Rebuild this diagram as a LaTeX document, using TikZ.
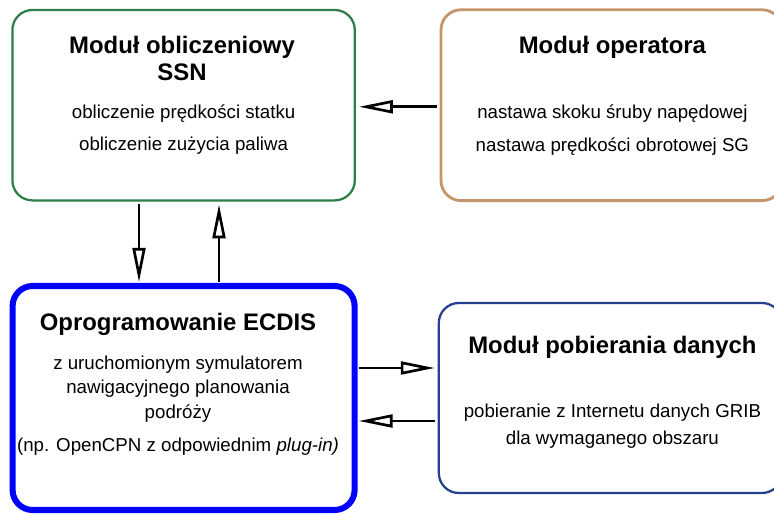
\documentclass[tikz,border=0pt]{standalone}
\usepackage{fontspec}
\setmainfont{Liberation Sans}
\usepackage{tikz}
\usetikzlibrary{arrows.meta,positioning,calc}
\definecolor{ssnGreen}{HTML}{2E7D4A}
\definecolor{opTan}{HTML}{C4956A}
\definecolor{ecdisBlue}{HTML}{0000FF}
\definecolor{gribNavy}{HTML}{26408B}

\begin{document}
\begin{tikzpicture}[
  box/.style={draw,rounded corners=0.5cm,outer sep=0pt,inner sep=0pt},
  ttl/.style={font=\fontsize{17}{19.2}\selectfont\bfseries,align=center},
  txt/.style={font=\fontsize{13.3}{22.8}\selectfont,align=center},
  flow/.style={-{Triangle[open,length=8.5mm,width=3.2mm]},line width=1.9pt,
    shorten <=0.1cm,shorten >=0.1cm}]
\useasboundingbox (0,0) rectangle (19.35,12.85);
% boxes
\node[box,ssnGreen,line width=1.6pt,minimum width=8.56cm,minimum height=4.76cm] (ssn) at (4.59,10.22) {};
\node[box,opTan,line width=2pt,minimum width=8.53cm,minimum height=4.77cm] (op) at (15.29,10.22) {};
\node[box,ecdisBlue,line width=4.3pt,minimum width=8.55cm,minimum height=5.6cm] (ecdis) at (4.59,2.9) {};
\node[box,gribNavy,line width=1.6pt,minimum width=8.58cm,minimum height=4.75cm] (grib) at (15.26,2.9) {};
% ssn module
\node[ttl] (ssn-t) at (4.55,11.39) {Moduł obliczeniowy\\SSN};
\node[txt] (ssn-b) at (4.59,9.6) {obliczenie prędkości statku\\obliczenie zużycia paliwa};
% operator module
\node[ttl] (op-t) at (15.31,11.675) {Moduł operatora};
\node[txt,font=\fontsize{13.3}{23.5}\selectfont] (op-b) at (15.31,9.59) {nastawa skoku śruby napędowej\\nastawa prędkości obrotowej SG};
% ecdis
\node[ttl] (ecdis-t) at (4.45,4.75) {Oprogramowanie ECDIS};
\node[txt,font=\fontsize{13.3}{17.4}\selectfont] (ecdis-b) at (4.45,3.125) {z uruchomionym symulatorem\\nawigacyjnego planowania\\podróży};
\node[txt] (ecdis-n) at (4.45,1.675) {(np. OpenCPN z odpowiednim \textit{plug-in)}};
% grib download
\node[ttl] (grib-t) at (15.31,4.175) {Moduł pobierania danych};
\node[txt,font=\fontsize{13.3}{19.2}\selectfont] (grib-b) at (15.31,2.19) {pobieranie z Internetu danych GRIB\\dla wymaganego obszaru};
% arrows
\draw[flow] ([yshift=-0.04cm]op.west) -- ([yshift=-0.04cm]ssn.east);
\draw[flow] ([xshift=-1.115cm]ssn.south) -- ([xshift=-1.115cm]ecdis.north);
\draw[flow] ([xshift=0.885cm]ecdis.north) -- ([xshift=0.885cm]ssn.south);
\draw[flow] ([yshift=0.75cm]ecdis.east) -- ([yshift=0.75cm]grib.west);
\draw[flow] ([yshift=-0.575cm]grib.west) -- ([yshift=-0.575cm]ecdis.east);
\end{tikzpicture}
\end{document}
